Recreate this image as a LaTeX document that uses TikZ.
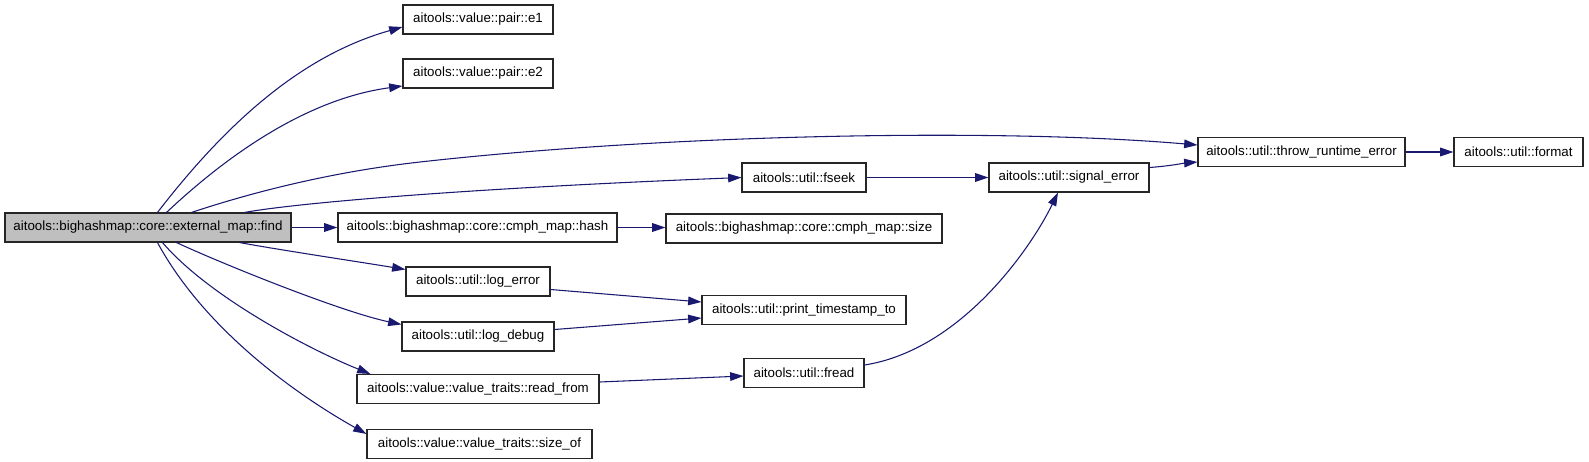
\documentclass[tikz,border=0pt]{standalone}
\usepackage{fontspec}
\setmainfont{Liberation Sans}
\usetikzlibrary{arrows.meta,calc}
\definecolor{edgeblue}{HTML}{191970}
\definecolor{findgray}{HTML}{BFBFBF}
\tikzset{
  fn/.style={draw=black!85, line width=0.8pt, rectangle, inner sep=0pt,
    minimum height=21.75pt, font=\fontsize{10}{12}\selectfont, anchor=center},
  edge/.style={draw=edgeblue, line width=0.8pt,
    -{Triangle[length=10pt,width=6.5pt]}},
}
\begin{document}
\begin{tikzpicture}[x=0.75pt,y=-0.75pt]
\useasboundingbox (0,0) rectangle (1589,461);

\node[fn, fill=findgray, minimum width=214.5pt] (find) at (148,227.5) {aitools::bighashmap::core::external\_map::find};
\node[fn, minimum width=112.5pt] (e1) at (478,19.5) {aitools::value::pair::e1};
\node[fn, minimum width=112.5pt] (e2) at (478,73.5) {aitools::value::pair::e2};
\node[fn, minimum width=155.25pt] (throw) at (1301.5,152) {aitools::util::throw\_runtime\_error};
\node[fn, minimum width=96.75pt] (format) at (1518.5,152) {aitools::util::format};
\node[fn, minimum width=93pt] (fseek) at (804,177.5) {aitools::util::fseek};
\node[fn, minimum width=120pt] (signal) at (1069,177.5) {aitools::util::signal\_error};
\node[fn, minimum width=209.25pt] (hash) at (477.5,227.5) {aitools::bighashmap::core::cmph\_map::hash};
\node[fn, minimum width=207pt] (size) at (804,228.5) {aitools::bighashmap::core::cmph\_map::size};
\node[fn, minimum width=108pt] (logerror) at (478,281.5) {aitools::util::log\_error};
\node[fn, minimum width=153pt] (print) at (804,310) {aitools::util::print\_timestamp\_to};
\node[fn, minimum width=114pt] (logdebug) at (478,336.5) {aitools::util::log\_debug};
\node[fn, minimum width=181.5pt] (readfrom) at (478,389) {aitools::value::value\_traits::read\_from};
\node[fn, minimum width=90pt] (fread) at (804,373) {aitools::util::fread};
\node[fn, minimum width=168.75pt] (sizeof) at (479.5,444) {aitools::value::value\_traits::size\_of};

% edges from find
\draw[edge] ($(find.north west)+(153,0)$) .. controls (228,121) and (303,55) .. ($(e1.west)+(0,7.5)$);
\draw[edge] ($(find.north west)+(162,0)$) .. controls (235,148) and (313,98) .. ($(e2.west)+(0,12.5)$);
\coordinate (tmid) at (420,162);
\draw[edge] ($(find.north west)+(187,0)$) .. controls (250,193) and (330,172) .. (tmid)
  .. controls (670,134) and (1000,128) .. ($(throw.west)+(0,-7)$);
\draw[edge] ($(find.north west)+(240,0)$) .. controls (290,204) and (450,189) .. (fseek.west);
\draw[edge] (find.east) -- (find.east -| hash.west);
\draw[edge] ($(find.south west)+(235,0)$) .. controls (280,250) and (360,262) .. ($(logerror.north west)+(0,3)$);
\draw[edge] ($(find.south west)+(172,0)$) .. controls (225,265) and (342,312) .. ($(logdebug.north west)+(0,3)$);
\draw[edge] ($(find.south west)+(158,0)$) .. controls (210,298) and (313,351) .. ($(readfrom.north west)+(14,0)$);
\draw[edge] ($(find.south west)+(153,0)$) .. controls (205,330) and (297,395) .. ($(sizeof.north west)+(0,5)$);

% other edges
\draw[edge] (hash.east) -- (hash.east -| size.west);
\draw[edge] (fseek.east) -- (signal.west);
\draw[edge] ($(signal.east)+(0,-10)$) .. controls (1170,166) and (1185,163) .. ($(throw.west)+(0,10)$);
\draw[edge] (throw.east) -- (format.west);
\draw[edge] ($(logerror.east)+(0,8)$) -- ($(print.west)+(0,-8)$);
\draw[edge] ($(logdebug.east)+(0,-7)$) -- ($(print.west)+(0,8)$);
\draw[edge] ($(readfrom.east)+(0,-7)$) -- ($(fread.west)+(0,3)$);
\draw[edge] ($(fread.east)+(0,-8)$) .. controls (960,350) and (1030,250) .. ($(signal.south)+(-11,0)$);
\end{tikzpicture}
\end{document}
